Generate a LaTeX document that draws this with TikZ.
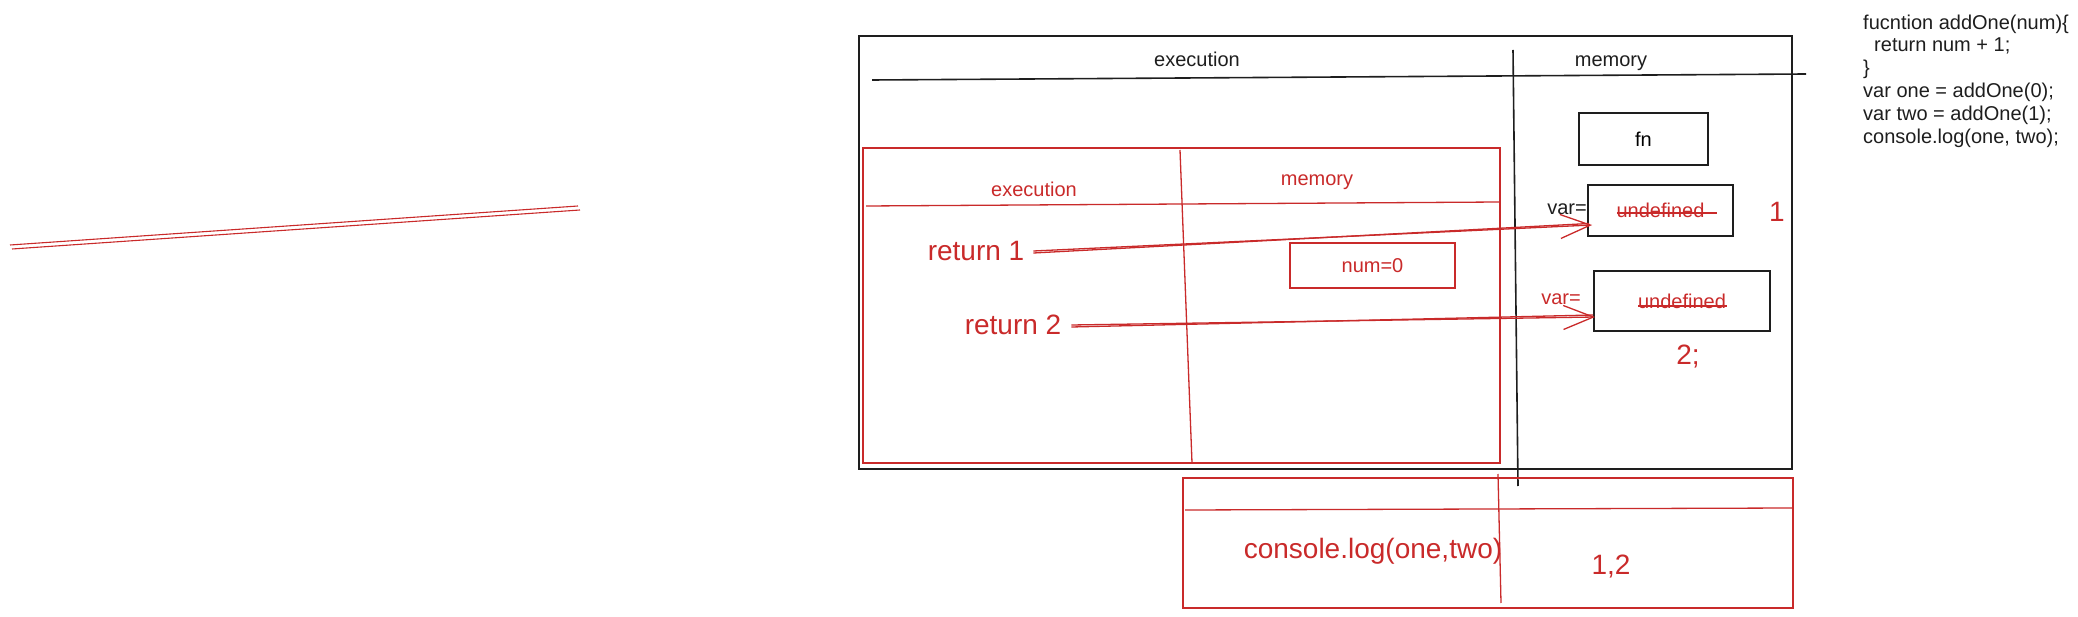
\documentclass[tikz,border=0pt]{standalone}
\usepackage{fontspec}
\setmainfont{Liberation Sans}
\usetikzlibrary{arrows.meta}
\definecolor{exred}{HTML}{C92A2A}
\definecolor{exblack}{HTML}{1E1E1E}
\begin{document}
\begin{tikzpicture}[x=1pt,y=-1pt,
  txt/.style={inner sep=0pt, font=\fontsize{20}{24}\selectfont, text=exblack},
  rtxt/.style={inner sep=0pt, font=\fontsize{20}{24}\selectfont, text=exred},
  bigtxt/.style={inner sep=0pt, font=\fontsize{28}{33}\selectfont, text=exred},
  bbox/.style={draw=exblack, line width=1.8pt, inner sep=0pt, font=\fontsize{20}{24}\selectfont},
  rbox/.style={draw=exred, line width=1.3pt, inner sep=0pt, font=\fontsize{20}{24}\selectfont, text=exred},
  bline/.style={draw=exblack, line width=1.6pt},
  rline/.style={draw=exred, line width=1.3pt},
  rarrow/.style={rline, -{Straight Barb[length=30pt,width=24pt,line width=1.3pt]}},
]
\useasboundingbox (0,0) rectangle (2078,617);

% left stray double line
\coordinate (la1) at (10,245);
\coordinate (la2) at (578,206);
\coordinate (lb1) at (12,249);
\coordinate (lb2) at (580,210);
\draw[rline, line width=1.1pt] (la1) -- (la2);
\draw[rline, line width=1.1pt] (lb1) -- (lb2);

% outer global execution context
\node[bbox, minimum width=933pt, minimum height=433pt] (outer) at (1325.5,252.5) {};
\coordinate (h1) at (872,80);
\coordinate (h2) at (1806,74);
\draw[bline] (h1) -- (h2);
\coordinate (v1) at (1513,50);
\coordinate (v2) at (1518,486);
\draw[bline] (v1) -- (v2);
\node[txt] (exec) at (1197,59) {execution};
\node[txt] (mem) at (1611,63) {memory};

% memory boxes
\node[bbox, minimum width=129pt, minimum height=52pt] (fn) at (1643.5,139) {fn};
\node[bbox, text=exred, minimum width=145pt, minimum height=51pt] (u1) at (1660.5,210.5) {undefined};
\draw[rline] ([xshift=-43.5pt,yshift=-2.5pt]u1.center) -- ([xshift=56.5pt,yshift=-2.5pt]u1.center);
\node[txt, anchor=east] (var1) at (1587,209) {var=};
\node[bigtxt] (one) at (1777,212) {1};

\node[bbox, text=exred, minimum width=176pt, minimum height=60pt] (u2) at (1682,301) {undefined};
\draw[rline] ([xshift=-44pt,yshift=-5pt]u2.center) -- ([xshift=45pt,yshift=-5pt]u2.center);
\node[rtxt, anchor=east] (var2) at (1581,299) {var=};
\node[bigtxt] (two) at (1688,357) {2;};

% inner function execution context
\node[rbox, minimum width=637pt, minimum height=315pt] (inner) at (1181.5,305.5) {};
\coordinate (ih1) at (866,206);
\coordinate (ih2) at (1500,202);
\draw[rline] (ih1) -- (ih2);
\coordinate (iv1) at (1180,150);
\coordinate (iv2) at (1192,463);
\draw[rline] (iv1) -- (iv2);
\node[rtxt] (exec2) at (1034,189) {execution};
\node[rtxt] (mem2) at (1317,182) {memory};
\node[rbox, minimum width=165pt, minimum height=45pt] (num) at (1372.5,265.5) {num=0};

\node[bigtxt] (r1) at (976,251) {return 1};
\node[bigtxt] (r2) at (1013,325) {return 2};

\draw[rarrow] ([xshift=9pt]r1.east) -- ([xshift=5pt,yshift=-14.5pt]u1.west);
\draw[rline] ([xshift=9pt,yshift=-2pt]r1.east) -- ([xshift=2pt,yshift=-13pt]u1.west);
\draw[rarrow] ([xshift=10pt]r2.east) -- ([xshift=2pt,yshift=-16pt]u2.west);
\draw[rline] ([xshift=10pt,yshift=-2pt]r2.east) -- ([xshift=0pt,yshift=-14pt]u2.west);

% console box
\node[rbox, minimum width=610pt, minimum height=130pt] (console) at (1488,543) {};
\coordinate (ch1) at (1185,510);
\coordinate (ch2) at (1793,508);
\draw[rline] (ch1) -- (ch2);
\coordinate (cv1) at (1498,474);
\coordinate (cv2) at (1501,603);
\draw[rline] (cv1) -- (cv2);
\node[bigtxt] (clog) at (1373,551) {console.log(one,two)};
\node[bigtxt] (res) at (1611,567) {1,2};

% code
\node[txt, anchor=north west, align=left, font=\fontsize{20}{22.8}\selectfont] (code) at (1863,14.5)
  {fucntion addOne(num)\{\\\hspace*{11pt}return num + 1;\\\}\\var one = addOne(0);\\var two = addOne(1);\\console.log(one, two);};
\end{tikzpicture}
\end{document}
